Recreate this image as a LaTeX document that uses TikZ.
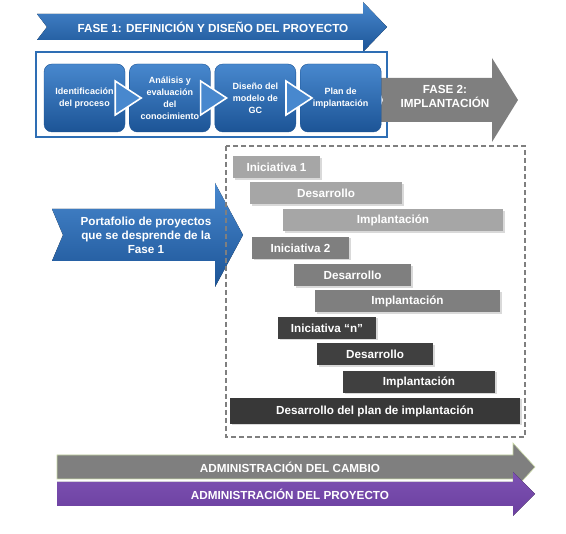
\documentclass[tikz,border=0pt]{standalone}
\usepackage{fontspec}
\setmainfont{Liberation Sans}
\usepackage{xcolor}
\definecolor{gcblue}{RGB}{46,110,180}
\definecolor{gcbluelt}{RGB}{72,136,206}
\definecolor{gcbluedk}{RGB}{28,84,150}
\definecolor{gcgray}{RGB}{127,127,127}
\definecolor{gclight}{RGB}{166,166,166}
\definecolor{gcdark}{RGB}{64,64,64}
\definecolor{gcdarker}{RGB}{56,56,56}
\definecolor{gcpurple}{RGB}{107,63,160}
\definecolor{gcpurplelt}{RGB}{125,82,178}
\definecolor{gcedge}{RGB}{200,215,165}
\usepackage{tikz}
\usetikzlibrary{positioning,calc,shadows}

\begin{document}
\begin{tikzpicture}[
  x=1pt, y=-1pt,
  font=\bfseries,
  procbox/.style={rounded corners=8pt, minimum width=81pt, minimum height=68pt, inner sep=1pt,
    align=center, text=white, top color=gcbluelt, bottom color=gcbluedk, draw=gcbluedk,
    font=\bfseries\fontsize{9}{12}\selectfont},
  chev/.style={draw=white, line width=1.6pt, fill=gcbluelt, line join=miter},
  bigarrow/.style={top color=gcbluelt, bottom color=gcbluedk},
  arrowtext/.style={text=white, align=center, font=\bfseries\fontsize{11.7}{14}\selectfont},
  bar/.style={minimum height=22pt, inner sep=0pt, text=white,
    font=\bfseries\fontsize{11.7}{13}\selectfont,
    drop shadow={shadow xshift=1.5pt, shadow yshift=-1.5pt, opacity=0.3}},
  node distance=4pt]
  \useasboundingbox (0,0) rectangle (566,534);
  \fill[bigarrow] (37,14) -- (363,14) -- (363,2) -- (387,27) -- (363,52) -- (363,40) -- (37,40) -- (47,27) -- cycle;
  \node[arrowtext] (fase1) at (213,27) {FASE 1: DEFINICIÓN Y DISEÑO DEL PROYECTO};
  \draw[gcblue, line width=1.5pt, fill=white] (36,52) rectangle (387,137);
  \fill[gcgray] (375,78) -- (492,78) -- (492,58) -- (518,100) -- (492,142) -- (492,122) -- (375,122) -- (383,100) -- cycle;
  \node[arrowtext] (fase2) at (445,96) {FASE 2:\\IMPLANTACIÓN};
  \node[procbox] (b1) at (84.5,98) {Identificación\\del proceso};
  \node[procbox, right=of b1] (b2) {Análisis y\\evaluación\\del\\conocimiento};
  \node[procbox, right=of b2] (b3) {Diseño del\\modelo de\\GC};
  \node[procbox, right=of b3] (b4) {Plan de\\implantación};
  \foreach \a/\b in {b1/b2,b2/b3,b3/b4}
    \draw[chev] ([xshift=-10pt,yshift=17pt]\a.east) -- ([xshift=12pt]\b.west) -- ([xshift=-10pt,yshift=-17pt]\a.east) -- cycle;
  \fill[bigarrow] (52,209) -- (215,209) -- (215,183) -- (243,235) -- (215,287) -- (215,261) -- (52,261) -- (63,235) -- cycle;
  \node[arrowtext] (portaf) at (146,235) {Portafolio de proyectos\\que se desprende de la\\Fase 1};
  \draw[gcgray, line width=1.3pt, dash pattern=on 5pt off 3pt] (226,146) rectangle (525,437);
  \node[bar, fill=gclight, minimum width=87pt] (ini1) at (276.5,167.5) {Iniciativa 1};
  \node[bar, fill=gclight, minimum width=152pt] (des1) at (326,193.5) {Desarrollo};
  \node[bar, fill=gclight, minimum width=220pt] (imp1) at (393,220.5) {Implantación};
  \node[bar, fill=gcgray, minimum width=97pt] (ini2) at (300.5,248) {Iniciativa 2};
  \node[bar, fill=gcgray, minimum width=117pt] (des2) at (352.5,275.5) {Desarrollo};
  \node[bar, fill=gcgray, minimum width=185pt] (imp2) at (407.5,301.5) {Implantación};
  \node[bar, fill=gcdark, minimum width=98pt] (inin) at (327,328) {Iniciativa “n”};
  \node[bar, fill=gcdark, minimum width=116pt] (desn) at (375,354.5) {Desarrollo};
  \node[bar, fill=gcdark, minimum width=152pt] (impn) at (419,382) {Implantación};
  \node[bar, fill=gcdarker, minimum width=290pt, minimum height=26pt] (plan) at (375,411) {Desarrollo del plan de implantación};
  \fill[gcgray, draw=gcedge, line width=0.6pt] (57,455) -- (513,455) -- (513,443) -- (535,467) -- (513,491) -- (513,479) -- (57,479) -- cycle;
  \node[arrowtext] (cambio) at (290,467) {ADMINISTRACIÓN DEL CAMBIO};
  \fill[top color=gcpurplelt, bottom color=gcpurple] (57,482) -- (513,482) -- (513,472) -- (535,494) -- (513,516) -- (513,506) -- (57,506) -- cycle;
  \node[arrowtext] (proy) at (290,494) {ADMINISTRACIÓN DEL PROYECTO};
\end{tikzpicture}
\end{document}
